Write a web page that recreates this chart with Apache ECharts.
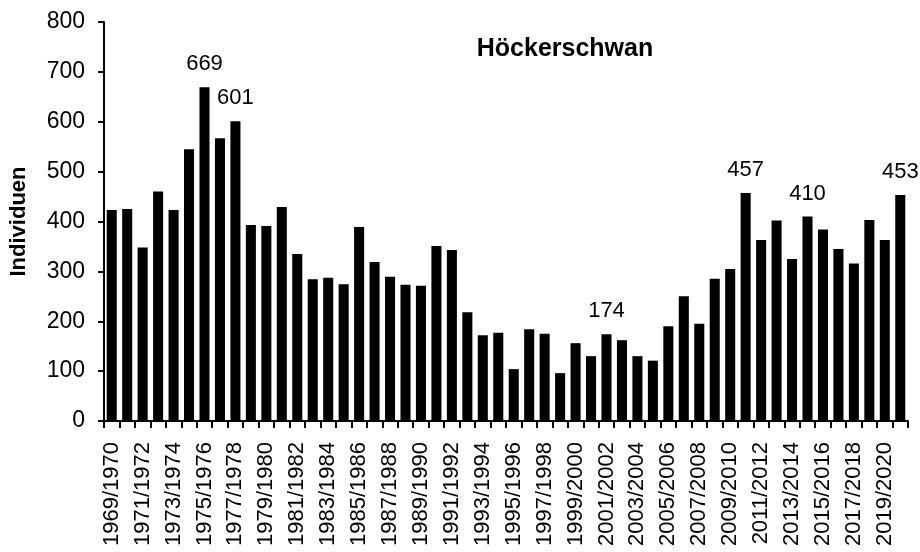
<!DOCTYPE html>
<html><head><meta charset="utf-8">
<script src="https://cdn.jsdelivr.net/npm/echarts@6/dist/echarts.min.js"></script>
<style>html,body{margin:0;padding:0;background:#fff}#c{width:920px;height:552px}</style>
</head><body><div id="c"></div>
<script>
const startYears = [];
for (let y = 1969; y <= 2020; y++) startYears.push(y);
const categories = startYears.map(y => y + '/' + (y + 1));
const values = [423,425,348,460,423,545,669,567,601,393,391,429,335,284,287,274,389,319,289,273,271,351,343,218,172,177,104,184,175,96,156,130,174,162,130,121,190,250,195,285,305,457,363,402,325,410,384,345,316,403,363,453];
const labelledCategories = ['1975/1976','1977/1978','2001/2002','2010/2011','2014/2015','2020/2021'];
const titleText = 'Höckerschwan';
const yAxisName = 'Individuen';

const font = 'Liberation Sans, Arial, sans-serif';
const seriesData = values.map((v, i) => {
  const item = { value: v };
  if (labelledCategories.includes(categories[i])) item.label = { show: true };
  return item;
});

const chart = echarts.init(document.getElementById('c'), null, { renderer: 'canvas' });
chart.setOption({
  animation: false,
  backgroundColor: '#fff',
  title: {
    text: titleText, left: 560, top: 32, textAlign: 'center',
    textStyle: { fontFamily: font, fontSize: 25, fontWeight: 'bold', color: '#000' }
  },
  grid: { left: 103, right: 12, top: 22, bottom: 131 },
  xAxis: {
    type: 'category', data: categories, boundaryGap: true,
    axisLine: { lineStyle: { color: '#000', width: 2 } },
    axisTick: { show: true, interval: 0, length: 7, lineStyle: { color: '#000', width: 2 } },
    axisLabel: { interval: 1, rotate: 90, margin: 21, fontFamily: font, fontSize: 22, color: '#000' }
  },
  yAxis: {
    type: 'value', min: 0, max: 800, interval: 100,
    name: yAxisName, nameLocation: 'middle', nameGap: 74, nameRotate: 90,
    nameTextStyle: { fontFamily: font, fontSize: 22, fontWeight: 'bold', color: '#000' },
    axisLine: { show: true, lineStyle: { color: '#000', width: 2 } },
    axisTick: { show: true, length: 6, lineStyle: { color: '#000', width: 2 } },
    axisLabel: { margin: 19, fontFamily: font, fontSize: 23, color: '#000' },
    splitLine: { show: false }
  },
  series: [{
    type: 'bar', data: seriesData, barCategoryGap: '35%',
    itemStyle: { color: '#000' },
    label: { show: false, position: 'top', distance: 12, fontFamily: font, fontSize: 22, color: '#000' }
  }]
});
</script></body></html>
